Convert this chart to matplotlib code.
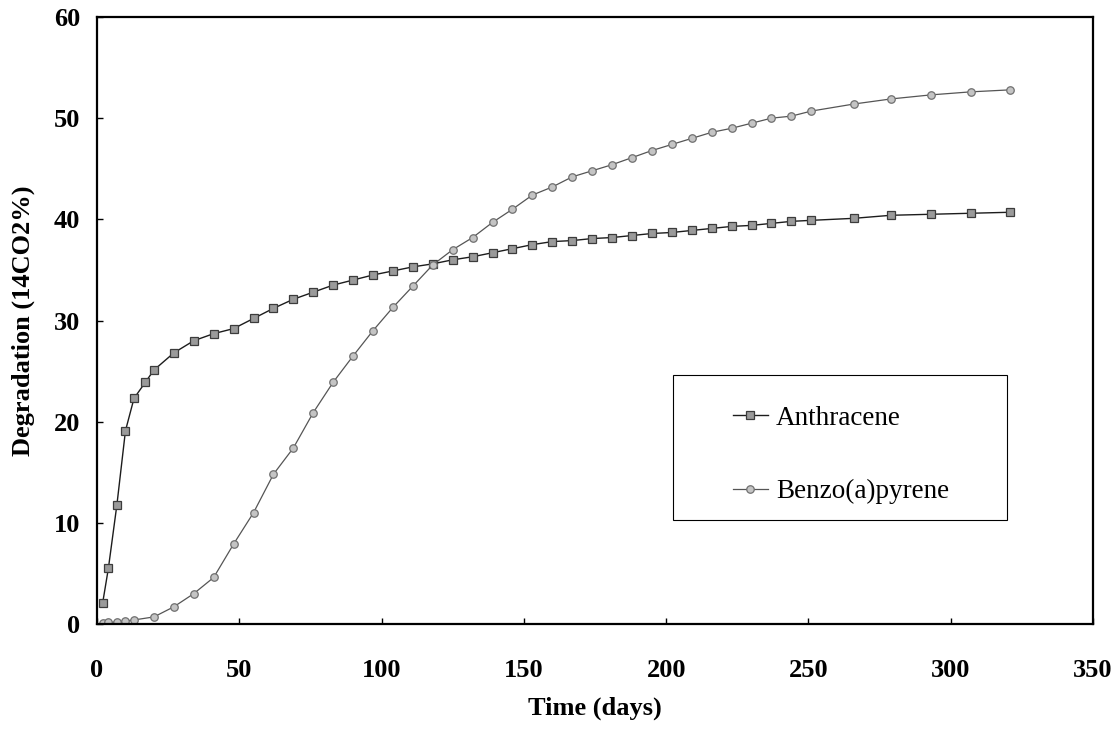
#!/usr/bin/env python3
"""Cumulative 14CO2 evolved from anthracene and benzo(a)pyrene over time.

Writes out.png
"""

import matplotlib

matplotlib.use("Agg")
import matplotlib.pyplot as plt
from matplotlib.lines import Line2D
from matplotlib.patches import Rectangle

# Sampling days and cumulative degradation (% of applied 14C as CO2)
anth_days = [2, 4, 7, 10, 13, 17, 20, 27, 34, 41, 48, 55, 62, 69, 76, 83, 90,
             97, 104, 111, 118, 125, 132, 139, 146, 153, 160, 167, 174, 181,
             188, 195, 202, 209, 216, 223, 230, 237, 244, 251, 266, 279, 293,
             307, 321]
anth_vals = [2.1, 5.5, 11.8, 19.1, 22.3, 23.9, 25.1, 26.8, 28.0, 28.7, 29.2,
             30.2, 31.2, 32.1, 32.8, 33.5, 34.0, 34.5, 34.9, 35.3, 35.6, 36.0,
             36.3, 36.7, 37.1, 37.5, 37.8, 37.9, 38.1, 38.2, 38.4, 38.6, 38.7,
             38.9, 39.1, 39.3, 39.4, 39.6, 39.8, 39.9, 40.1, 40.4, 40.5, 40.6,
             40.7]

bap_days = [2, 4, 7, 10, 13, 20, 27, 34, 41, 48, 55, 62, 69, 76, 83, 90, 97,
            104, 111, 118, 125, 132, 139, 146, 153, 160, 167, 174, 181, 188,
            195, 202, 209, 216, 223, 230, 237, 244, 251, 266, 279, 293, 307,
            321]
bap_vals = [0.1, 0.15, 0.2, 0.3, 0.4, 0.7, 1.7, 3.0, 4.6, 7.9, 11.0, 14.8,
            17.4, 20.9, 23.9, 26.5, 29.0, 31.3, 33.4, 35.5, 37.0, 38.2, 39.7,
            41.0, 42.4, 43.2, 44.2, 44.8, 45.4, 46.1, 46.8, 47.4, 48.0, 48.6,
            49.0, 49.5, 50.0, 50.2, 50.7, 51.4, 51.9, 52.3, 52.6, 52.8]

x_ticks = [0, 50, 100, 150, 200, 250, 300, 350]
y_ticks = [0, 10, 20, 30, 40, 50, 60]

SERIF = ["Liberation Serif", "DejaVu Serif"]

W, H = 1118, 737
fig = plt.figure(figsize=(W / 100, H / 100), dpi=100)
ax = fig.add_axes([97 / W, 1 - 624 / H, 996 / W, 607 / H])

anth_style = dict(color="#1c1c1c", lw=1.0, marker="s", ms=5.2,
                  mfc="#9a9a9a", mec="#3c3c3c", mew=0.9)
bap_style = dict(color="#555555", lw=0.9, marker="o", ms=5.4,
                 mfc="#c4c4c4", mec="#707070", mew=0.9)

ax.plot(anth_days, anth_vals, **anth_style)
ax.plot(bap_days, bap_vals, **bap_style)

ax.set_xlim(0, 350)
ax.set_ylim(0, 60)
ax.set_xticks(x_ticks)
ax.set_yticks(y_ticks)

for side in ax.spines.values():
    side.set_color("black")
    side.set_linewidth(1.6)

ax.tick_params(direction="in", length=4, width=1, colors="black")
ax.tick_params(axis="x", pad=25)
ax.tick_params(axis="y", pad=12)
for lbl in ax.get_xticklabels() + ax.get_yticklabels():
    lbl.set_family(SERIF)
    lbl.set_fontweight("bold")
    lbl.set_fontsize(19)

ax.set_xlabel("Time (days)", family=SERIF, fontweight="bold", fontsize=19)
ax.set_ylabel("Degradation (14CO2%)", family=SERIF, fontweight="bold",
              fontsize=19)
ax.xaxis.set_label_coords(0.5, -0.12)
ax.yaxis.set_label_coords(-0.062, 0.5)

# legend box outline, with the entries centred inside it
fig.add_artist(Rectangle((673 / W, 1 - 520 / H), 334 / W, 145 / H,
                         transform=fig.transFigure, fill=False,
                         lw=0.8, ec="black"))
handles = [Line2D([], [], **anth_style), Line2D([], [], **bap_style)]
fig.legend(handles, ["Anthracene", "Benzo(a)pyrene"], loc="center",
           bbox_to_anchor=(841 / W, 1 - 455 / H), frameon=False,
           prop={"family": SERIF, "size": 19.5}, handlelength=1.3,
           handletextpad=0.3, labelspacing=1.8)

fig.savefig("out.png", dpi=100)
plt.close(fig)
